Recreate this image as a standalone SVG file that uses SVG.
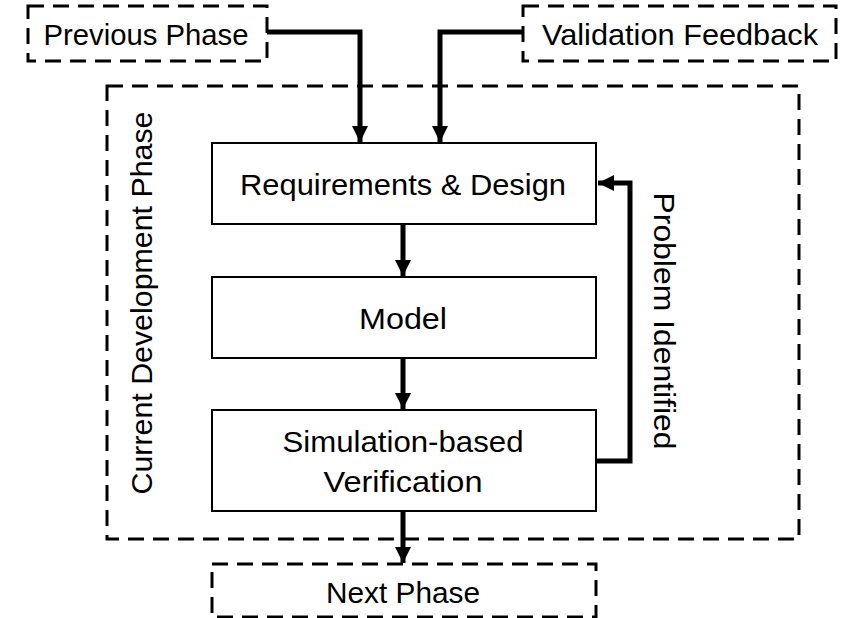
<svg xmlns="http://www.w3.org/2000/svg" width="843" height="618" viewBox="0 0 843 618">
<style>
text{font-family:"Liberation Sans",Arial,sans-serif;font-size:29px;fill:#000;text-anchor:middle}
.box{fill:#fff;stroke:#000;stroke-width:2}
.dash{fill:none;stroke:#000;stroke-width:3;stroke-dasharray:16 9}
.conn{fill:none;stroke:#000;stroke-width:5}
</style>
<defs>
<marker id="ah" viewBox="0 0 10 10" refX="10" refY="5" markerWidth="3.2" markerHeight="3.2" orient="auto" markerUnits="strokeWidth">
<path d="M0,0 L10,5 L0,10 z" fill="#000"/>
</marker>
</defs>
<rect width="843" height="618" fill="#fff"/>
<g id="current-phase">
<rect class="dash" x="107" y="86" width="692" height="453"/>
<text transform="translate(152,303) rotate(-90)" textLength="383" lengthAdjust="spacingAndGlyphs">Current  Development  Phase</text>
</g>
<g id="previous-phase">
<rect class="dash" x="28" y="6" width="239" height="55"/>
<text x="146" y="45" textLength="205" lengthAdjust="spacingAndGlyphs">Previous Phase</text>
</g>
<g id="validation-feedback">
<rect class="dash" x="523" y="6" width="313" height="55"/>
<text x="680" y="45" textLength="276" lengthAdjust="spacingAndGlyphs">Validation Feedback</text>
</g>
<g id="requirements">
<rect class="box" x="212" y="143" width="384" height="81"/>
<text x="403" y="195" textLength="326" lengthAdjust="spacingAndGlyphs">Requirements &amp; Design</text>
</g>
<g id="model">
<rect class="box" x="212" y="277" width="384" height="81"/>
<text x="403" y="329" textLength="88" lengthAdjust="spacingAndGlyphs">Model</text>
</g>
<g id="verification">
<rect class="box" x="212" y="410" width="384" height="101"/>
<text x="403" y="452" textLength="241" lengthAdjust="spacingAndGlyphs">Simulation-based</text>
<text x="403" y="492" textLength="159" lengthAdjust="spacingAndGlyphs">Verification</text>
</g>
<g id="next-phase">
<rect class="dash" x="212" y="564" width="384" height="53"/>
<text x="403" y="603" textLength="154" lengthAdjust="spacingAndGlyphs">Next Phase</text>
</g>
<g id="problem-label">
<text transform="translate(654,321) rotate(90)" textLength="257" lengthAdjust="spacingAndGlyphs">Problem Identified</text>
</g>
<g id="connectors">
<path class="conn" d="M267,32 H360 V142" marker-end="url(#ah)"/>
<path class="conn" d="M523,32 H440 V142" marker-end="url(#ah)"/>
<path class="conn" d="M403,224 V276" marker-end="url(#ah)"/>
<path class="conn" d="M403,358 V409" marker-end="url(#ah)"/>
<path class="conn" d="M403,512 V563" marker-end="url(#ah)"/>
<path class="conn" d="M597,461 H630 V183 H598" marker-end="url(#ah)"/>
</g>
</svg>
